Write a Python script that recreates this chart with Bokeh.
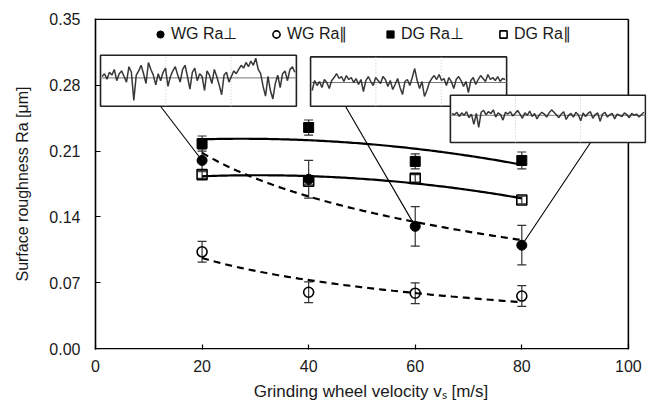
import numpy as np
from bokeh.plotting import figure
from bokeh.models import (Range1d, FixedTicker, NumeralTickFormatter, Whisker, TeeHead,
                          ColumnDataSource, Legend, LegendItem)
from bokeh.embed import file_html
from bokeh.resources import INLINE

# ---------------- data ----------------
velocity = [20, 40, 60, 80]
wg_perp = [0.200, 0.180, 0.130, 0.110]
wg_perp_err = [0.012, 0.020, 0.021, 0.021]
wg_par = [0.103, 0.060, 0.059, 0.056]
wg_par_err = [0.011, 0.011, 0.011, 0.011]
dg_perp = [0.218, 0.235, 0.199, 0.200]
dg_perp_err = [0.008, 0.008, 0.008, 0.009]
dg_par = [0.185, 0.178, 0.181, 0.158]
dg_par_err = [0.004, 0.004, 0.004, 0.004]
series_labels = ["WG Ra⊥", "WG Ra∥", "DG Ra⊥", "DG Ra∥"]
x_ticks = [0, 20, 40, 60, 80, 100]
y_ticks = [0.00, 0.07, 0.14, 0.21, 0.28, 0.35]
x_title = "Grinding wheel velocity vₛ [m/s]"
y_title = "Surface roughness Ra [μm]"

# surface profile traces shown in the three insets (relative heights)
profile_wg20 = [0.1, 0.3, -0.1, 0.4, 0.2, 0.6, -0.2, 0.3, 0.5, 0.1, -0.3, 0.8, 0.4, -1.6, 0.2, 0.5,
                0.9, 0.3, -0.4, 1.1, 0.6, 0.2, -0.5, 0.3, -0.2, 0.4, 0.7, -0.6, 0.1, 0.5, 0.8, 0.2,
                -0.3, 0.6, 0.9, 0.1, -0.8, 0.4, 0.7, -0.2, 0.3, 0.1, -0.9, 0.5, 0.2, -0.4, 0.6, 0.1,
                -0.5, -1.2, 0.2, 0.4, -0.3, 0.1, 0.5, 0.3, 0.6, 0.9, 0.7, 1.1, 0.8, 1.2, 0.9, 1.4,
                0.6, 0.3, -0.6, -1.3, 0.1, -0.9, -1.5, -0.4, 0.2, -0.7, 0.3, 0.5, -0.2, 0.6, 0.8, 0.4]
profile_wg60 = [-0.8, 0.2, -0.3, 0.1, -0.5, 0.3, 0.0, -0.6, 0.2, 0.5, 0.9, 0.4, 0.6, 0.1, 0.7, 0.3,
                0.5, 0.0, 0.4, -0.2, 0.3, -0.9, 0.2, 0.6, 0.1, -0.3, 0.5, 0.2, -0.1, 0.6, 0.3, -0.4,
                0.2, -0.7, -0.2, 0.4, -0.5, -1.2, 0.1, 0.3, -0.3, 0.5, 1.4, 0.2, -0.6, 0.1, -1.4, -0.8,
                0.0, 0.4, 0.7, 0.3, 0.8, 0.2, 0.4, -0.3, 0.5, 0.1, -0.6, 0.3, 0.6, 0.2, -0.4, 0.1,
                -1.0, 0.2, 0.5, -0.2, 0.3, 0.7, 0.4, 0.1, 0.8, 0.3, 0.5, 0.2, 0.6, 0.1, 0.4, 0.3]
profile_wg80 = [0.3, 0.1, 0.5, -0.2, 0.4, 0.0, 0.6, -0.4, 0.2, -1.5, 0.3, -2.0, 0.5, 0.8, 0.1, 0.6,
                0.3, 0.9, -0.3, 0.4, 0.1, -0.8, 0.5, 0.2, 0.6, -0.1, 0.3, 0.8, 0.2, -0.5, 0.4, 0.0,
                0.7, -0.2, 0.3, -0.6, 0.1, 0.5, 0.2, -0.3, 0.4, 0.9, 0.5, 0.1, -0.4, 0.2, 0.6, -0.7,
                0.0, 0.3, -0.3, 0.5, 0.1, -0.9, 0.4, -0.2, 0.3, 0.6, -0.5, 0.1, 0.4, -1.0, 0.2, 0.5,
                -0.3, 0.1, 0.3, -0.6, 0.2, 0.0, -0.2, 0.4, 0.1, -0.4, 0.3, 0.0, 0.2, -0.3, 0.1, 0.5]

FONT = "Liberation Sans"
TXT = "#1a1a1a"

p = figure(width=651, height=407, x_range=Range1d(0, 103.4), y_range=Range1d(-0.0008, 0.3508),
           output_backend="svg", toolbar_location=None,
           min_border_left=95, min_border_right=5, min_border_top=18, min_border_bottom=58)
p.outline_line_color = None
p.grid.visible = False
p.background_fill_color = "white"
p.border_fill_color = "white"

# axes
p.xaxis.ticker = FixedTicker(ticks=x_ticks)
p.yaxis.ticker = FixedTicker(ticks=y_ticks)
p.yaxis.formatter = NumeralTickFormatter(format="0.00")
for ax in (p.xaxis, p.yaxis):
    ax.major_tick_in = 5
    ax.major_tick_out = 0
    ax.minor_tick_line_color = None
    ax.major_tick_line_color = "black"
    ax.major_tick_line_width = 1.2
    ax.major_label_text_font = FONT
    ax.major_label_text_font_size = "16px"
    ax.major_label_text_color = TXT
    ax.axis_label_text_font = FONT
    ax.axis_label_text_font_style = "normal"
    ax.axis_label_text_color = TXT
p.xaxis.axis_label_text_font_size = "17px"
p.yaxis.axis_label_text_font_size = "16px"
p.xaxis.axis_line_color = None
p.yaxis.axis_line_color = "black"
p.yaxis.axis_line_width = 1.6
p.xaxis.axis_label = x_title
p.yaxis.axis_label = y_title
p.xaxis.major_label_standoff = 10
p.xaxis.axis_label_standoff = 7
p.yaxis.major_label_standoff = 15
p.yaxis.axis_label_standoff = 15

# frame (bottom, right, top) limited to 0..100
x0, x1 = x_ticks[0], x_ticks[-1]
y0, y1 = y_ticks[0], y_ticks[-1]
p.multi_line(xs=[[x0, x1], [x1, x1], [x0, x1]], ys=[[y0, y0], [y0, y1], [y1, y1]],
             line_color="black", line_width=1.6)

# trend lines fitted from the data
xs_fit = np.linspace(velocity[0], velocity[-1], 120)
vel = np.array(velocity, dtype=float)
for vals in (dg_perp, dg_par):
    c = np.polyfit(vel, np.array(vals), 2)
    p.line(xs_fit, np.polyval(c, xs_fit), line_color="black", line_width=2.2)
for vals in (wg_perp, wg_par):
    c = np.polyfit(np.log(vel), np.array(vals), 1)
    p.line(xs_fit, np.polyval(c, np.log(xs_fit)), line_color="black", line_width=2.2,
           line_dash="7 5")

# error bars
for vals, errs in ((wg_perp, wg_perp_err), (wg_par, wg_par_err),
                   (dg_perp, dg_perp_err), (dg_par, dg_par_err)):
    src = ColumnDataSource(dict(x=velocity,
                                lo=[v - e for v, e in zip(vals, errs)],
                                hi=[v + e for v, e in zip(vals, errs)]))
    w = Whisker(base="x", upper="hi", lower="lo", source=src, dimension="height",
                line_color="#333333", line_width=1.2,
                upper_head=TeeHead(size=9, line_color="#333333", line_width=1.2),
                lower_head=TeeHead(size=9, line_color="#333333", line_width=1.2))
    p.add_layout(w)

# markers
r_wg_perp = p.scatter(velocity, wg_perp, marker="circle", size=10, fill_color="black",
                      line_color="black")
r_wg_par = p.scatter(velocity, wg_par, marker="circle", size=10, fill_color=None,
                     line_color="black", line_width=1.6)
r_dg_perp = p.scatter(velocity, dg_perp, marker="square", size=10, fill_color="black",
                      line_color="black")
r_dg_par = p.scatter(velocity, dg_par, marker="square", size=10, fill_color=None,
                     line_color="black", line_width=1.6)

# insets with surface profiles (box in data coords: left, right, bottom, top, baseline, amplitude)
insets = [
    (0.94, 37.7, 0.2576, 0.3118, 0.2877, 0.0149, profile_wg20, (12.2, 0.2576), 0),
    (40.36, 77.15, 0.2576, 0.3100, 0.2828, 0.0106, profile_wg60, (46.9, 0.2576), 2),
    (66.6, 103.2, 0.2191, 0.2693, 0.2480, 0.0064, profile_wg80, (92.9, 0.2191), 3),
]
for left, right, bottom, top, base, amp, prof, anchor, idx in insets:
    p.line([anchor[0], velocity[idx]], [anchor[1], wg_perp[idx]], line_color="black",
           line_width=1.1)
for left, right, bottom, top, base, amp, prof, anchor, idx in insets:
    p.quad(left=[left], right=[right], bottom=[bottom], top=[top], fill_color="white",
           line_color="#222222", line_width=1.6)
    w = right - left
    p.multi_line(xs=[[left + w / 3, left + w / 3], [left + 2 * w / 3, left + 2 * w / 3]],
                 ys=[[bottom, top], [bottom, top]], line_color="#c8c8c8", line_width=1,
                 line_dash="1 2")
    p.line([left, right], [base, base], line_color="#777777", line_width=1)
    px = np.linspace(left + 0.3, right - 0.3, len(prof))
    py = base + amp * np.array(prof)
    p.line(px, py, line_color="#222222", line_width=1.5, line_alpha=0.9)

# legend: one entry per box so each sits where the reference puts it
renderers = [r_wg_perp, r_wg_par, r_dg_perp, r_dg_par]
legend_x = [56, 172, 286, 399]
for lab, rend, lx in zip(series_labels, renderers, legend_x):
    lg = Legend(items=[LegendItem(label=lab, renderers=[rend])], orientation="horizontal",
                location=(lx, 306), glyph_width=18, glyph_height=18, label_standoff=2,
                spacing=0, padding=0, margin=0,
                label_text_font=FONT, label_text_font_size="16px", label_text_color=TXT,
                border_line_color=None, background_fill_alpha=0)
    p.add_layout(lg, "center")

open("out.html", "w").write(file_html(p, INLINE))
